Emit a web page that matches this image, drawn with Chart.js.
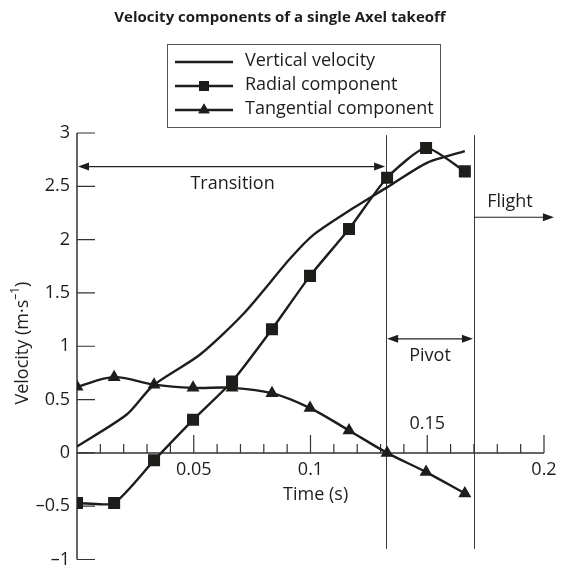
<!DOCTYPE html>
<html>
<head>
<meta charset="utf-8">
<script src="https://cdn.jsdelivr.net/npm/chart.js@4/dist/chart.umd.min.js"></script>
<style>
  html, body { margin: 0; padding: 0; background: #ffffff; }
  #wrap { width: 561px; height: 568px; }
</style>
</head>
<body>
<div id="wrap"><canvas id="chart" width="561" height="568"></canvas></div>
<script>
// Sample times (s) of the radial and tangential components
const sampleTimes = [0, 0.0159, 0.0330, 0.0497, 0.0664, 0.0835, 0.0998, 0.1165, 0.1328, 0.1495, 0.1661];
const radialComponent = [-0.47, -0.47, -0.07, 0.31, 0.67, 1.16, 1.66, 2.10, 2.58, 2.86, 2.64];
const tangentialComponent = [0.62, 0.71, 0.64, 0.61, 0.61, 0.56, 0.42, 0.21, 0.00, -0.18, -0.38];

// Vertical velocity of the centre of mass
const verticalTimes = [0, 0.0213, 0.0325, 0.0526, 0.0711, 0.0912, 0.1010, 0.1165, 0.1328, 0.1499, 0.1661];
const verticalVelocity = [0.06, 0.36, 0.63, 0.92, 1.30, 1.82, 2.04, 2.27, 2.49, 2.72, 2.83];

// Phase boundaries (s)
const pivotStart = 0.1324;
const flightStart = 0.1700;

// Axis ticks
const xTickValues = [0.05, 0.1, 0.15, 0.2];
const xTickLabels = ['0.05', '0.1', '0.15', '0.2'];
const yTickValues = [-1, -0.5, 0, 0.5, 1, 1.5, 2, 2.5, 3];
const yTickLabels = ['\u20131', '\u20130.5', '0', '0.5', '1', '1.5', '2', '2.5', '3'];

const seriesNames = ['Vertical velocity', 'Radial component', 'Tangential component'];
const titleText = 'Velocity components of a single Axel takeoff';

const INK = '#1d1d1b';
const FONT = '"Open Sans", "Noto Sans", sans-serif';
const TEXT_SIZE = 18;

function pairs(xs, ys) { return xs.map((x, i) => ({ x: x, y: ys[i] })); }

function arrowHead(ctx, tipX, tipY, dir) {
  // dir: +1 points right, -1 points left
  ctx.beginPath();
  ctx.moveTo(tipX, tipY);
  ctx.lineTo(tipX - dir * 11, tipY - 4);
  ctx.lineTo(tipX - dir * 11, tipY + 4);
  ctx.closePath();
  ctx.fill();
}

const decorations = {
  id: 'decorations',
  beforeDatasetsDraw(chart) {
    const ctx = chart.ctx;
    const xs = chart.scales.x, ys = chart.scales.y;
    const x0 = xs.getPixelForValue(0);
    const y0 = ys.getPixelForValue(0);
    ctx.save();
    ctx.strokeStyle = INK;
    ctx.fillStyle = INK;

    // phase boundary lines
    ctx.lineWidth = 1;
    ctx.strokeStyle = '#3a3a3a';
    [pivotStart, flightStart].forEach(t => {
      const px = Math.round(xs.getPixelForValue(t)) + 0.5;
      ctx.beginPath();
      ctx.moveTo(px, ys.getPixelForValue(2.98));
      ctx.lineTo(px, ys.getPixelForValue(-0.9));
      ctx.stroke();
    });

    // axes
    ctx.strokeStyle = '#333333';
    ctx.lineWidth = 1.5;
    ctx.beginPath();
    ctx.moveTo(x0, ys.getPixelForValue(3));
    ctx.lineTo(x0, ys.getPixelForValue(-1));
    ctx.moveTo(x0, y0);
    ctx.lineTo(xs.getPixelForValue(0.2), y0);
    ctx.stroke();

    // y ticks point into the plot
    ctx.lineWidth = 1.2;
    ctx.beginPath();
    yTickValues.forEach(v => {
      const py = ys.getPixelForValue(v);
      ctx.moveTo(x0, py);
      ctx.lineTo(x0 + 18, py);
    });
    ctx.stroke();

    // x ticks every 0.01 s, longer every 0.05 s
    ctx.beginPath();
    for (let k = 1; k <= 20; k++) {
      const px = xs.getPixelForValue(k / 100);
      const len = (k % 5 === 0) ? 18 : 9;
      ctx.moveTo(px, y0);
      ctx.lineTo(px, y0 - len);
    }
    ctx.stroke();

    // tick labels
    ctx.fillStyle = INK;
    ctx.font = TEXT_SIZE + 'px ' + FONT;
    ctx.textAlign = 'right';
    ctx.textBaseline = 'middle';
    yTickValues.forEach((v, i) => {
      ctx.fillText(yTickLabels[i], x0 - 7, ys.getPixelForValue(v));
    });
    ctx.textAlign = 'center';
    xTickValues.forEach((v, i) => {
      const above = v === 0.15;
      ctx.fillText(xTickLabels[i], xs.getPixelForValue(v), above ? y0 - 29 : y0 + 17);
    });

    // axis titles
    ctx.fillText('Time (s)', xs.getPixelForValue(0.1022), y0 + 42);
    ctx.save();
    ctx.translate(23, ys.getPixelForValue(1.03));
    ctx.rotate(-Math.PI / 2);
    const main = 'Velocity (m\u00b7s';
    const sup = '\u20131';
    const supSize = Math.round(TEXT_SIZE * 0.65);
    ctx.font = TEXT_SIZE + 'px ' + FONT;
    const wMain = ctx.measureText(main).width;
    ctx.font = supSize + 'px ' + FONT;
    const wSup = ctx.measureText(sup).width;
    ctx.font = TEXT_SIZE + 'px ' + FONT;
    const wClose = ctx.measureText(')').width;
    let sx = -(wMain + wSup + wClose) / 2;
    ctx.textAlign = 'left';
    ctx.fillText(main, sx, 0);
    sx += wMain;
    ctx.font = supSize + 'px ' + FONT;
    ctx.fillText(sup, sx, -7);
    sx += wSup;
    ctx.font = TEXT_SIZE + 'px ' + FONT;
    ctx.fillText(')', sx, 0);
    ctx.restore();

    // phase arrows and labels
    ctx.lineWidth = 1.2;
    ctx.strokeStyle = '#222222';
    ctx.fillStyle = INK;
    const pS = xs.getPixelForValue(pivotStart);
    const fS = xs.getPixelForValue(flightStart);
    const yT = ys.getPixelForValue(2.685);
    ctx.beginPath(); ctx.moveTo(x0 + 4, yT); ctx.lineTo(pS - 4, yT); ctx.stroke();
    arrowHead(ctx, x0 + 1, yT, -1);
    arrowHead(ctx, pS - 1, yT, 1);

    const yP = ys.getPixelForValue(1.07);
    ctx.beginPath(); ctx.moveTo(pS + 4, yP); ctx.lineTo(fS - 4, yP); ctx.stroke();
    arrowHead(ctx, pS + 1, yP, -1);
    arrowHead(ctx, fS - 1, yP, 1);

    const yF = ys.getPixelForValue(2.21);
    ctx.beginPath(); ctx.moveTo(fS, yF); ctx.lineTo(fS + 74, yF); ctx.stroke();
    arrowHead(ctx, fS + 80, yF, 1);

    ctx.font = TEXT_SIZE + 'px ' + FONT;
    ctx.textAlign = 'center';
    ctx.textBaseline = 'middle';
    ctx.fillText('Transition', (x0 + pS) / 2 + 1, yT + 17);
    ctx.fillText('Pivot', (pS + fS) / 2, yP + 17);
    ctx.fillText('Flight', fS + 36, yF - 15);

    // title
    ctx.font = 'bold 15px ' + FONT;
    ctx.fillText(titleText, 280, 18);

    // legend
    const lx = 167, ly = 44, lw = 273, lh = 83;
    ctx.lineWidth = 1;
    ctx.strokeStyle = '#555555';
    ctx.strokeRect(lx + 0.5, ly + 0.5, lw, lh);
    const rows = [62, 86, 110];
    const styles = [null, 'rect', 'triangle'];
    ctx.font = TEXT_SIZE + 'px ' + FONT;
    ctx.textAlign = 'left';
    rows.forEach((ry, i) => {
      ctx.strokeStyle = INK;
      ctx.lineWidth = 2.3;
      ctx.beginPath(); ctx.moveTo(175, ry); ctx.lineTo(233, ry); ctx.stroke();
      if (styles[i]) {
        Chart.helpers.drawPoint(ctx, { pointStyle: styles[i], radius: styles[i] === 'rect' ? 7 : 6.5, rotation: 0, borderWidth: 0 }, 204, ry);
        ctx.fillStyle = INK;
        ctx.fill();
      }
      ctx.fillStyle = INK;
      ctx.fillText(seriesNames[i], 245, ry - 1);
    });
    ctx.restore();
  }
};

const lineBase = {
  borderColor: INK,
  backgroundColor: INK,
  pointBackgroundColor: INK,
  pointBorderColor: INK,
  pointBorderWidth: 0,
  borderWidth: 2.4,
  fill: false,
  showLine: true
};

new Chart(document.getElementById('chart'), {
  type: 'scatter',
  data: {
    datasets: [
      Object.assign({}, lineBase, {
        label: seriesNames[0],
        data: pairs(verticalTimes, verticalVelocity),
        pointRadius: 0,
        tension: 0.25
      }),
      Object.assign({}, lineBase, {
        label: seriesNames[1],
        data: pairs(sampleTimes, radialComponent),
        pointStyle: 'rect',
        pointRadius: 8.5,
        tension: 0.2
      }),
      Object.assign({}, lineBase, {
        label: seriesNames[2],
        data: pairs(sampleTimes, tangentialComponent),
        pointStyle: 'triangle',
        pointRadius: 7.5,
        tension: 0.35
      })
    ]
  },
  options: {
    responsive: false,
    animation: false,
    devicePixelRatio: 1,
    layout: { padding: { left: 77, right: 17, top: 133, bottom: 3 } },
    scales: {
      x: { type: 'linear', min: 0, max: 0.2, display: false },
      y: { type: 'linear', min: -1, max: 3, display: false }
    },
    plugins: {
      legend: { display: false },
      tooltip: { enabled: false },
      title: { display: false }
    }
  },
  plugins: [decorations]
});
</script>
</body>
</html>
